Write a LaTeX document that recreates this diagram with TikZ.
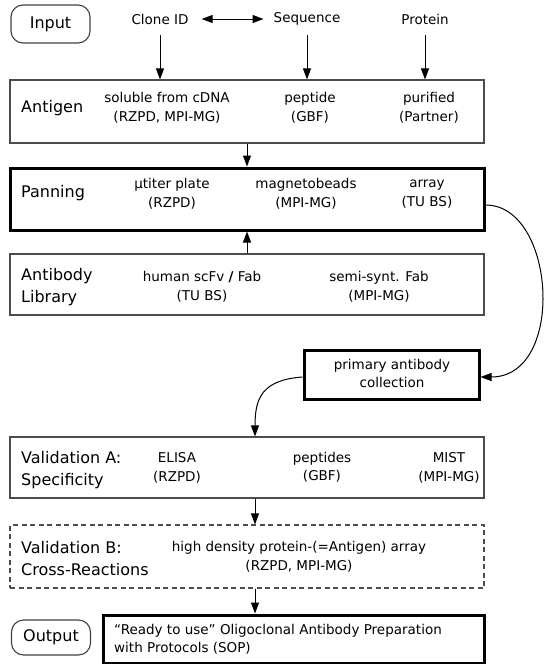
\documentclass[tikz,border=0pt]{standalone}
\usepackage{fontspec}
\setmainfont{DejaVu Sans}
\usetikzlibrary{arrows.meta}
\begin{document}
\begin{tikzpicture}[x=1pt,y=-1pt,
  thinbox/.style={draw=black!70, line width=1.1pt, minimum width=474pt, inner sep=0pt},
  thickbox/.style={draw=black, line width=3pt, inner sep=0pt},
  roundbox/.style={draw=black!75, line width=1.1pt, rounded corners=12pt, inner sep=0pt,
    minimum width=79pt, font=\fontsize{16}{22}\selectfont},
  lbl/.style={anchor=west, align=left, inner sep=0pt, font=\fontsize{16}{22}\selectfont},
  col/.style={align=center, inner sep=0pt, font=\fontsize{13.5}{18.5}\selectfont},
  tip/.tip={Triangle[width=8pt,length=11pt]},
  arr/.style={-tip, line width=1pt},
]
\useasboundingbox (0,0) rectangle (544,664);

% top row
\node[roundbox, minimum height=38pt] (input) at (50.5,24) {Input};
\node[col] (clone) at (160,19) {Clone ID};
\node[col] (seq) at (307,19) {Sequence};
\node[col] (prot) at (425,19) {Protein};

% boxes
\node[thinbox, minimum height=63pt] (antigen) at (247,111.5) {};
\node[thickbox, minimum width=474pt, minimum height=62pt] (panning) at (247,199) {};
\node[thinbox, minimum height=61pt] (antibody) at (247,284.5) {};
\node[thickbox, minimum width=175pt, minimum height=49pt] (primary) at (391.5,374.5) {};
\node[thinbox, minimum height=61pt] (valA) at (247,467.5) {};
\node[thinbox, minimum height=63pt, dash pattern=on 5pt off 3.5pt] (valB) at (247,556.5) {};
\node[thickbox, minimum width=381pt, minimum height=48pt] (outbox) at (293.5,639) {};
\node[roundbox, minimum height=35pt] (output) at (51,637.5) {Output};

% labels
\node[lbl] (lantigen) at (21,108) {Antigen};
\node[lbl] (lpanning) at (21,193) {Panning};
\node[lbl] (llib) at (21,287) {Antibody\\Library};
\node[lbl] (lvalA) at (21,470) {Validation A:\\Specificity};
\node[lbl] (lvalB) at (21,559) {Validation B:\\Cross-Reactions};

% columns
\node[col] (a1) at (167,108) {soluble from cDNA\\(RZPD, MPI-MG)};
\node[col] (a2) at (310,108) {peptide\\(GBF)};
\node[col] (a3) at (429,108) {purified\\(Partner)};
\node[col] (p1) at (172,194) {μtiter plate\\(RZPD)};
\node[col] (p2) at (306,194) {magnetobeads\\(MPI-MG)};
\node[col] (p3) at (427,194) {array\\(TU BS)};
\node[col] (b1) at (202,287) {human scFv \textbf{/} Fab\\(TU BS)};
\node[col] (b2) at (379,287) {semi-synt. Fab\\(MPI-MG)};
\node[col] (pc) at (392,373.5) {primary antibody\\collection};
\node[col] (v1) at (177,468) {ELISA\\(RZPD)};
\node[col] (v2) at (322,467.5) {peptides\\(GBF)};
\node[col] (v3) at (449,468) {MIST\\(MPI-MG)};
\node[col] (vb) at (299,557) {high density protein-(=Antigen) array\\(RZPD, MPI-MG)};
\node[col, anchor=west, align=left] (ot) at (114,639.5) {“Ready to use” Oligoclonal Antibody Preparation\\with Protocols (SOP)};

% connectors
\draw[tip-tip, line width=1pt] ([xshift=13pt]clone.east) -- ([xshift=-10pt]clone.east -| seq.west);
\draw[arr] (clone.south |- 0,35) -- (clone.south |- antigen.north);
\draw[arr] (seq.south |- 0,35) -- (seq.south |- antigen.north);
\draw[arr] (prot.south |- 0,35) -- (prot.south |- antigen.north);
\draw[arr] (antigen.south) -- (panning.north);
\draw[arr] (antibody.north) -- (panning.south);
\draw[arr] (panning.east |- 0,205) .. controls (556,205) and (566,377) .. (primary.east |- 0,377);
\draw[arr] (primary.west |- 0,377) .. controls (262,380) and (255,398) .. (255,0 |- valA.north);
\draw[arr] (255,0 |- valA.south) -- (255,0 |- valB.north);
\draw[arr] (255,0 |- valB.south) -- (255,0 |- outbox.north);
\end{tikzpicture}
\end{document}
